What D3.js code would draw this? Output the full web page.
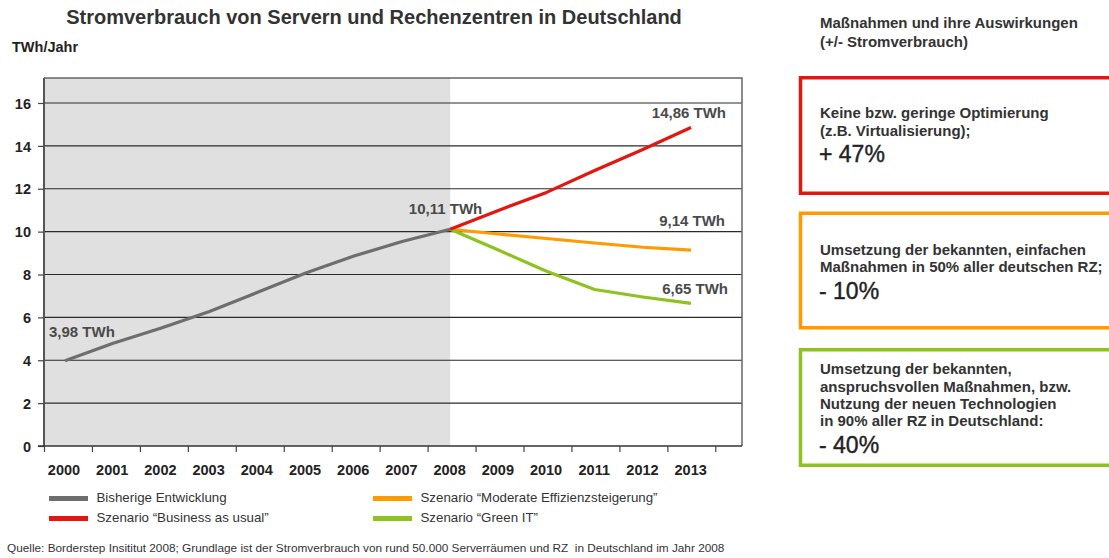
<!DOCTYPE html>
<html><head><meta charset="utf-8">
<script src="https://cdn.jsdelivr.net/npm/d3@7"></script>
<style>body{margin:0;background:#fff}svg{display:block}</style>
</head><body>
<script>
// ---- data ----
const years = [2000,2001,2002,2003,2004,2005,2006,2007,2008,2009,2010,2011,2012,2013];
const historyYears = [2000,2001,2002,2003,2004,2005,2006,2007,2008];
const historyValues = [3.98,4.79,5.50,6.27,7.17,8.07,8.86,9.54,10.11];
const scenarioYears = [2008,2009,2010,2011,2012,2013];
const businessValues = [10.11,10.99,11.83,12.85,13.83,14.86];
const moderateValues = [10.11,9.89,9.68,9.47,9.27,9.14];
const greenValues = [10.11,9.14,8.15,7.30,6.95,6.65];
const yTicks = [0,2,4,6,8,10,12,14,16];
const legendLabels = ["Bisherige Entwicklung","Szenario \u201CBusiness as usual\u201D","Szenario \u201CModerate Effizienzsteigerung\u201D","Szenario \u201CGreen IT\u201D"];
const boxTexts = [
  ["Keine bzw. geringe Optimierung","(z.B. Virtualisierung);"],
  ["Umsetzung der bekannten, einfachen","Ma\u00DFnahmen in 50% aller deutschen RZ;"],
  ["Umsetzung der bekannten,","anspruchsvollen Ma\u00DFnahmen, bzw.","Nutzung der neuen Technologien","in 90% aller RZ in Deutschland:"]
];
const boxPercents = ["+ 47%","- 10%","- 40%"];

// ---- layout ----
const W = 1109, H = 558;
const C = {gray:"#6e6e6e", red:"#e2170f", orange:"#ff9a00", green:"#8dc21f", text:"#333"};
const svg = d3.select("body").append("svg").attr("width",W).attr("height",H)
  .style("font-family","'Liberation Sans', Arial, sans-serif");

const plotL = 44, plotR = 742, plotT = 78, plotB = 446;
const y = d3.scaleLinear().domain([0,16]).range([plotB,103]);
const x = d3.scaleLinear().domain([2000,2013]).range([65,691]);
const tickStep = 47.95;

// gray history background
svg.append("rect").attr("x",plotL).attr("y",plotT).attr("width",x(2008)-plotL).attr("height",plotB-plotT).attr("fill","#e0e0e0");

// gridlines
svg.append("g").selectAll("line").data(yTicks.filter(d=>d>0)).join("line")
  .attr("x1",plotL).attr("x2",plotR).attr("y1",d=>y(d)).attr("y2",d=>y(d))
  .attr("stroke","#2a2a2a").attr("stroke-width",1.1);

// frame
svg.append("path").attr("d",`M${plotL},${plotT}H${plotR}V${plotB}`).attr("fill","none").attr("stroke","#666").attr("stroke-width",1.5);

// y axis
const yAxis = svg.append("g").attr("transform",`translate(${plotL},0)`)
  .call(d3.axisLeft(y).tickValues(yTicks).tickSize(6).tickPadding(7));
yAxis.select(".domain").attr("d",`M0,${plotT}V${plotB}`).attr("stroke","#555").attr("stroke-width",2);
yAxis.selectAll(".tick line").attr("stroke","#444").attr("stroke-width",1.2);
yAxis.selectAll(".tick text").attr("font-size",14.5).attr("font-weight","bold").attr("fill","#222")
  .attr("font-family","'Liberation Sans', Arial, sans-serif").attr("dy","0.36em");

// x axis
svg.append("line").attr("x1",plotL-6).attr("x2",plotR).attr("y1",plotB).attr("y2",plotB).attr("stroke","#333").attr("stroke-width",1.5);
const tickPos = d3.range(15).map(i=>plotL+0.5+i*tickStep);
svg.append("g").selectAll("line").data(tickPos).join("line")
  .attr("x1",d=>d).attr("x2",d=>d).attr("y1",plotB).attr("y2",plotB+6).attr("stroke","#444").attr("stroke-width",1.2);
svg.append("g").selectAll("text").data(years).join("text")
  .attr("x",d=>x(d)+(d-2000)*0.05-1).attr("y",475).attr("text-anchor","middle")
  .attr("font-size",14.5).attr("font-weight","bold").attr("fill","#222").text(d=>d);

// lines
const line = d3.line().x(d=>x(d[0])).y(d=>y(d[1]));
function drawSeries(xs, vs, color){
  svg.append("path").datum(xs.map((d,i)=>[d,vs[i]])).attr("d",line)
    .attr("fill","none").attr("stroke",color).attr("stroke-width",3.2).attr("stroke-linejoin","round");
}
drawSeries(historyYears, historyValues, C.gray);
drawSeries(scenarioYears, moderateValues, C.orange);
drawSeries(scenarioYears, greenValues, C.green);
drawSeries(scenarioYears, businessValues, C.red);

// value labels
const lab = (t,xx,yy,anchor)=>svg.append("text").attr("x",xx).attr("y",yy).attr("text-anchor",anchor)
  .attr("font-size",15).attr("font-weight","bold").attr("fill","#4a4a4a").text(t);
const fmt = v=>d3.format(".2f")(v).replace(".",",")+" TWh";
lab(fmt(historyValues[0]), x(2000)-16, y(historyValues[0])-24, "start");
lab(fmt(historyValues[8]), x(2008)+32, y(historyValues[8])-15, "end");
lab(fmt(businessValues[5]), x(2013)+35, y(businessValues[5])-9, "end");
lab(fmt(moderateValues[5]), x(2013)+34, y(moderateValues[5])-24, "end");
lab(fmt(greenValues[5]), x(2013)+37, y(greenValues[5])-9, "end");

// title
svg.append("text").attr("x",374).attr("y",23.5).attr("text-anchor","middle").attr("font-size",20)
  .attr("font-weight","bold").attr("fill","#333").text("Stromverbrauch von Servern und Rechenzentren in Deutschland");
svg.append("text").attr("x",12).attr("y",52).attr("font-size",14.5).attr("font-weight","bold").attr("fill","#222").text("TWh/Jahr");

// legend
const legendColors = [C.gray, C.red, C.orange, C.green];
const legPos = [[49,497.5],[49,517.5],[373,497.5],[373,517.5]];
legendLabels.forEach((t,i)=>{
  const [lx,ly] = legPos[i];
  svg.append("line").attr("x1",lx).attr("x2",lx+39).attr("y1",ly+1).attr("y2",ly+1).attr("stroke",legendColors[i]).attr("stroke-width",5);
  svg.append("text").attr("x",lx+47.5).attr("y",ly+4.5).attr("font-size",13.3).attr("fill",C.text).text(t);
});

// footnote
svg.append("text").attr("x",7).attr("y",552).attr("font-size",11.8).attr("fill","#333").style("white-space","pre")
  .text("Quelle: Borderstep Insititut 2008; Grundlage ist der Stromverbrauch von rund 50.000 Serverr\u00E4umen und RZ  in Deutschland im Jahr 2008");

// right panel
svg.append("text").attr("x",820).attr("y",28).attr("font-size",15).attr("font-weight","bold").attr("fill",C.text).text("Ma\u00DFnahmen und ihre Auswirkungen");
svg.append("text").attr("x",820).attr("y",47).attr("font-size",15).attr("font-weight","bold").attr("fill",C.text).text("(+/- Stromverbrauch)");

const boxes = [
  {top:76, bottom:195, color:C.red, lines:[118,136], pct:162},
  {top:211.5, bottom:329.5, color:C.orange, lines:[254.5,272], pct:299},
  {top:348, bottom:467, color:C.green, lines:[373.5,391.5,408.5,426], pct:453}
];
boxes.forEach((b,i)=>{
  svg.append("rect").attr("x",800.5).attr("y",b.top+1.75).attr("width",330).attr("height",b.bottom-b.top-3.5)
    .attr("fill","none").attr("stroke",b.color).attr("stroke-width",3.5);
  boxTexts[i].forEach((t,j)=>svg.append("text").attr("x",820).attr("y",b.lines[j]).attr("font-size",15)
    .attr("font-weight","bold").attr("fill",C.text).text(t));
  svg.append("text").attr("x",819).attr("y",b.pct).attr("font-size",23).attr("fill","#222")
    .attr("stroke","#222").attr("stroke-width",0.4).text(boxPercents[i]);
});
</script>
</body></html>
